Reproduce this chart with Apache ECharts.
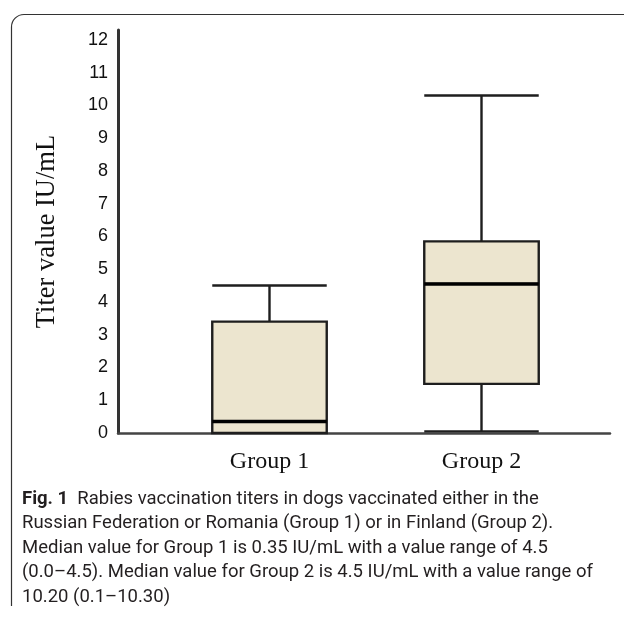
<!DOCTYPE html>
<html>
<head>
<meta charset="utf-8">
<script src="https://cdn.jsdelivr.net/npm/echarts@6/dist/echarts.min.js"></script>
<style>html,body{margin:0;padding:0;background:#fff;}#c{width:624px;height:622px;}</style>
</head>
<body>
<div id="c"></div>
<script>
// Data
const categories = ['Group 1', 'Group 2'];
// [min, Q1, median, Q3, max]
const boxValues = [
  [0.0, 0.0, 0.35, 3.4, 4.5],
  [0.05, 1.5, 4.55, 5.85, 10.3]
];
const yTicks = [0, 1, 2, 3, 4, 5, 6, 7, 8, 9, 10, 11, 12];
const yAxisTitle = 'Titer value IU/mL';
const captionLines = [
  '{b|Fig. 1}  Rabies vaccination titers in dogs vaccinated either in the',
  'Russian Federation or Romania (Group 1) or in Finland (Group 2).',
  'Median value for Group 1 is 0.35 IU/mL with a value range of 4.5',
  '(0.0\u20134.5). Median value for Group 2 is 4.5 IU/mL with a value range of',
  '10.20 (0.1\u201310.30)'
];

const chart = echarts.init(document.getElementById('c'), null, {renderer: 'canvas'});
const capFont = 'Roboto';
chart.setOption({
  animation: false,
  backgroundColor: '#fff',
  title: {
    left: 22, top: 487, padding: 0,
    text: captionLines.join('\n'),
    textStyle: {
      fontFamily: capFont, fontSize: 18.5, fontWeight: 'normal', color: '#231f20', lineHeight: 24.5,
      rich: { b: { fontFamily: capFont, fontSize: 18.5, fontWeight: 'bold', color: '#231f20', lineHeight: 24.5 } }
    }
  },
  graphic: [
    { type: 'line', shape: { x1: 11.5, y1: 27, x2: 11.5, y2: 606 }, style: { stroke: '#333', lineWidth: 1.2 } },
    { type: 'line', shape: { x1: 24, y1: 14.5, x2: 624, y2: 14.5 }, style: { stroke: '#333', lineWidth: 1.2 } },
    { type: 'arc', shape: { cx: 24, cy: 27, r: 12.5, startAngle: Math.PI, endAngle: Math.PI * 1.5, clockwise: true },
      style: { fill: null, stroke: '#333', lineWidth: 1.2 } }
  ],
  grid: [
    { left: 163.5, right: 36.5, top: 30, bottom: 189 },
    { left: 118, right: 14, top: 30, bottom: 189 }
  ],
  xAxis: [
    {
      type: 'category', gridIndex: 0, data: categories, boundaryGap: true,
      axisLine: { show: false }, axisTick: { show: false }, splitLine: { show: false },
      axisLabel: { fontFamily: 'Liberation Serif', fontSize: 24, color: '#111', margin: 17 }
    },
    {
      type: 'value', gridIndex: 1, min: 0, max: 1,
      axisLine: { show: true, onZero: false, lineStyle: { color: '#444', width: 2.5 } },
      axisTick: { show: false }, axisLabel: { show: false }, splitLine: { show: false }
    }
  ],
  yAxis: [
    {
      type: 'value', gridIndex: 0, min: 0, max: 12.3, interval: 1, offset: 45.5,
      axisLine: { show: true, lineStyle: { color: '#333', width: 3 } },
      axisTick: { show: false }, splitLine: { show: false },
      axisLabel: {
        fontFamily: 'Arial', fontSize: 18, color: '#111', margin: 10,
        formatter: v => (yTicks.indexOf(v) >= 0 ? String(v) : '')
      },
      name: yAxisTitle, nameLocation: 'middle', nameGap: 57,
      nameTextStyle: { fontFamily: 'Liberation Serif', fontSize: 26.5, color: '#111' }
    },
    { type: 'value', gridIndex: 1, show: false, min: 0, max: 1 }
  ],
  series: [
    {
      type: 'boxplot', xAxisIndex: 0, yAxisIndex: 0,
      data: boxValues,
      boxWidth: ['54%', '54%'],
      itemStyle: { color: '#ece5cf', borderColor: '#1e1e1e', borderWidth: 2.4 }
    },
    {
      type: 'custom', xAxisIndex: 0, yAxisIndex: 0,
      data: boxValues.map((b, i) => [i, b[2]]),
      renderItem: function (params, api) {
        const c = api.coord([api.value(0), api.value(1)]);
        const half = api.size([1, 0])[0] * 0.54 / 2;
        return {
          type: 'line',
          shape: { x1: c[0] - half, y1: c[1], x2: c[0] + half, y2: c[1] },
          style: { stroke: '#000', lineWidth: 3.5 }
        };
      },
      z: 5
    }
  ]
});
</script>
</body>
</html>
